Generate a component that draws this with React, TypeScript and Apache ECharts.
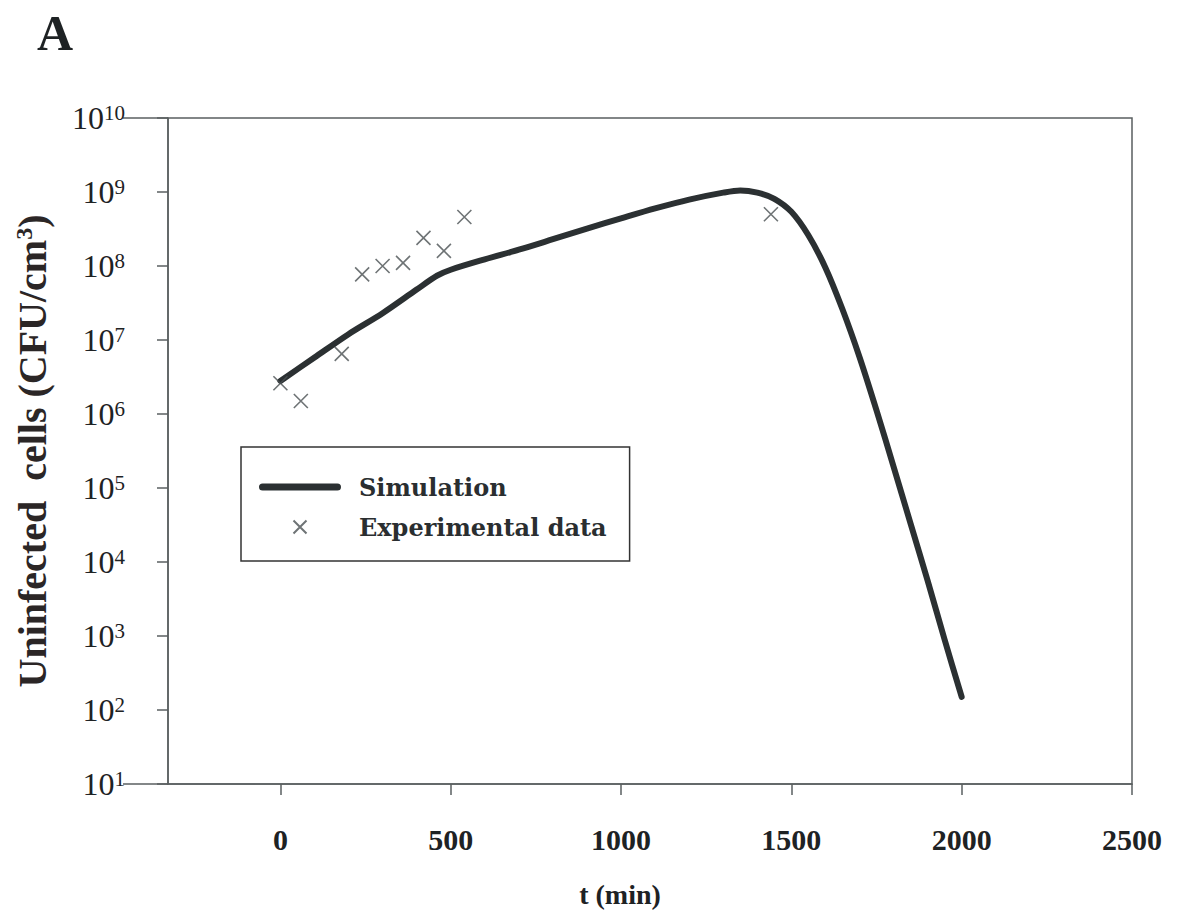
import React, { useEffect, useRef } from "react";
import * as echarts from "echarts";

// Simulation curve: time (min) and uninfected cells (CFU/cm3)
const simT = [0, 100, 200, 300, 400, 460, 500, 600, 700, 800, 900, 1000, 1100, 1200, 1300, 1350, 1400, 1450, 1500, 1550, 1600, 1650, 1700, 1750, 1800, 1850, 1900, 1950, 2000];
const simCells = [2.8e6, 5.8e6, 1.2e7, 2.3e7, 4.8e7, 7.4e7, 8.9e7, 1.23e8, 1.66e8, 2.3e8, 3.2e8, 4.4e8, 6.0e8, 7.9e8, 9.8e8, 1.05e9, 9.8e8, 8.1e8, 5.4e8, 2.6e8, 9.5e7, 2.6e7, 5.9e6, 1.12e6, 1.95e5, 3.3e4, 5.6e3, 890, 150];

// Experimental data
const expT = [0, 60, 180, 240, 300, 360, 420, 480, 540, 1440];
const expCells = [2.6e6, 1.5e6, 6.5e6, 7.7e7, 1.0e8, 1.1e8, 2.4e8, 1.6e8, 4.6e8, 5.0e8];

const xTicks = [0, 500, 1000, 1500, 2000, 2500];
const seriesNames = ["Simulation", "Experimental data"];

const SERIF = "'Liberation Serif', 'Times New Roman', serif";
const LEGEND_FONT = "'DejaVu Serif', serif";

export default function App() {
  const ref = useRef<HTMLDivElement>(null);

  useEffect(() => {
    document.body.style.margin = "0";
    const chart = echarts.init(ref.current!, null, { renderer: "svg" });
    const axisColor = "#5a5f60";
    chart.setOption({
      animation: false,
      backgroundColor: "#ffffff",
      grid: {
        left: 168,
        top: 118,
        width: 964,
        height: 666,
        show: true,
        borderColor: axisColor,
        borderWidth: 1.5,
      },
      graphic: [
        { type: "text", left: 37, top: 8, style: { text: "A", font: `bold 50px ${SERIF}`, fill: "#1e2224" } },
        { type: "line", shape: { x1: 123, y1: 118, x2: 168, y2: 118 }, style: { stroke: axisColor, lineWidth: 1.5 } },
        { type: "line", shape: { x1: 123, y1: 784, x2: 168, y2: 784 }, style: { stroke: axisColor, lineWidth: 1.5 } },
      ],
      legend: {
        data: [
          { name: seriesNames[0], icon: "path://M3.5,0L76.5,0A3.5,3.5,0,0,1,76.5,7L3.5,7A3.5,3.5,0,0,1,3.5,0Z" },
          { name: seriesNames[1] },
        ],
        orient: "vertical",
        left: 241,
        top: 447,
        borderColor: "#333",
        borderWidth: 1.5,
        padding: [28, 23, 22, 18],
        itemGap: 16,
        itemWidth: 82,
        itemHeight: 13,
        symbolKeepAspect: true,
        textStyle: {
          fontFamily: LEGEND_FONT,
          fontWeight: "bold",
          fontSize: 24,
          color: "#2a2e30",
          padding: [0, 0, 0, 13],
        },
      },
      xAxis: {
        type: "value",
        min: -330,
        max: 2500,
        name: "t (min)",
        nameLocation: "middle",
        nameGap: 96,
        nameTextStyle: {
          fontFamily: SERIF,
          fontWeight: "bold",
          fontSize: 28,
          color: "#1e2224",
          padding: [0, 60, 0, 0],
        },
        axisLine: { show: true, onZero: false, lineStyle: { color: axisColor, width: 1.5 } },
        axisTick: { show: true, length: 11, customValues: xTicks, lineStyle: { color: axisColor, width: 1.5 } },
        axisLabel: {
          customValues: xTicks,
          margin: 40,
          formatter: (v: number) => String(v),
          fontFamily: SERIF,
          fontWeight: "bold",
          fontSize: 30,
          color: "#1e2224",
        },
        splitLine: { show: false },
      },
      yAxis: {
        type: "log",
        logBase: 10,
        min: 10,
        max: 1e10,
        interval: 1,
        name: "{a|Uninfected  cells (CFU/cm}{s|3}{a|)}",
        nameLocation: "middle",
        nameRotate: 90,
        nameGap: 116,
        nameTextStyle: {
          rich: {
            a: { fontFamily: SERIF, fontWeight: "bold", fontSize: 40, color: "#2b2626" },
            s: { fontFamily: SERIF, fontWeight: "bold", fontSize: 24, color: "#2b2626", verticalAlign: "top" },
          },
        },
        axisLine: { show: true, onZero: false, lineStyle: { color: axisColor, width: 1.5 } },
        axisTick: { show: true, length: 11, lineStyle: { color: axisColor, width: 1.5 } },
        minorTick: { show: false },
        splitLine: { show: false },
        axisLabel: {
          margin: 43,
          formatter: (v: number) => `{b|10}{e|${Math.round(Math.log10(v))}}`,
          rich: {
            b: { fontFamily: SERIF, fontSize: 32, color: "#1e2224" },
            e: { fontFamily: SERIF, fontSize: 21, color: "#1e2224", verticalAlign: "top" },
          },
        },
      },
      series: [
        {
          name: seriesNames[0],
          type: "line",
          data: simT.map((t, i) => [t, simCells[i]]),
          symbol: "none",
          smooth: 0.3,
          lineStyle: { color: "#2b3032", width: 6, cap: "round", join: "round" },
          itemStyle: { color: "#2b3032" },
          z: 2,
        },
        {
          name: seriesNames[1],
          type: "scatter",
          data: expT.map((t, i) => [t, expCells[i]]),
          symbol: "path://M0,0L10,10M10,0L0,10",
          symbolSize: 14,
          itemStyle: { color: "none", borderColor: "#4a5052", borderWidth: 1.6 },
          z: 3,
        },
      ],
    });
    return () => chart.dispose();
  }, []);

  return <div ref={ref} style={{ width: 1177, height: 913 }} />;
}
